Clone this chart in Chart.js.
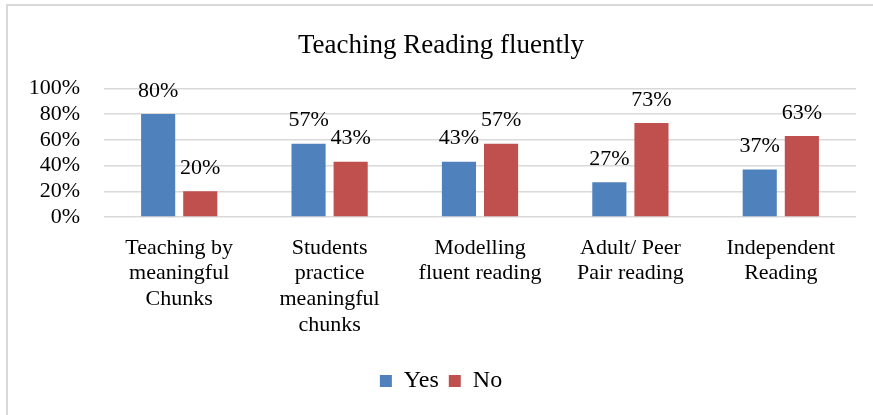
<!DOCTYPE html>
<html>
<head>
<meta charset="utf-8">
<script src="https://cdn.jsdelivr.net/npm/chart.js@4.4.0/dist/chart.umd.min.js"></script>
<style>
  html, body { margin: 0; padding: 0; background: #fff; overflow: hidden; width: 873px; height: 415px; }
  #box { position: absolute; left: 6px; top: 4px; width: 880px; height: 420px; border: 2px solid #d9d9d9; box-sizing: border-box; }
  #wrap { position: absolute; left: 6px; top: 5px; width: 880px; height: 420px; }
</style>
</head>
<body>
<div id="box"></div>
<div id="wrap"><canvas id="chart" width="880" height="420"></canvas></div>
<script>
// categories (multi-line labels as in the picture)
const categories = [
  ["Teaching by", "meaningful", "Chunks"],
  ["Students", "practice", "meaningful", "chunks"],
  ["Modelling", "fluent reading"],
  ["Adult/ Peer", "Pair reading"],
  ["Independent", "Reading"],
];
// percentages
const yesValues = [80, 57, 43, 27, 37];
const noValues = [20, 43, 57, 73, 63];
const yTicks = [0, 20, 40, 60, 80, 100];

const serif = "'Liberation Serif', 'Times New Roman', serif";

// labels above each bar
const barLabels = {
  id: "barLabels",
  afterDatasetsDraw(chart) {
    const ctx = chart.ctx;
    ctx.save();
    ctx.font = "22px " + serif;
    ctx.fillStyle = "#000";
    ctx.textAlign = "center";
    ctx.textBaseline = "middle";
    chart.data.datasets.forEach((ds, i) => {
      chart.getDatasetMeta(i).data.forEach((bar, j) => {
        ctx.fillText(ds.data[j] + "%", bar.x, bar.y - 23);
      });
    });
    ctx.restore();
  },
};

new Chart(document.getElementById("chart"), {
  type: "bar",
  plugins: [barLabels],
  data: {
    labels: categories,
    datasets: [
      { label: "Yes", data: yesValues, backgroundColor: "#4F81BD", categoryPercentage: 0.56, barPercentage: 0.81 },
      { label: "No", data: noValues, backgroundColor: "#C0504D", categoryPercentage: 0.56, barPercentage: 0.81 },
    ],
  },
  options: {
    responsive: false,
    animation: false,
    layout: { padding: { left: 20, right: 30, top: 0, bottom: 22 } },
    plugins: {
      tooltip: { enabled: false },
      title: {
        display: true,
        text: "Teaching Reading fluently",
        color: "#000",
        font: { family: serif, size: 27, weight: "normal", lineHeight: 1.2 },
        padding: { top: 25, bottom: 26 },
      },
      legend: {
        position: "bottom",
        labels: {
          color: "#000",
          font: { family: serif, size: 24 },
          boxWidth: 12,
          boxHeight: 12,
          padding: 10,
        },
      },
    },
    scales: {
      x: {
        grid: { display: false, drawTicks: false },
        border: { display: false },
        ticks: {
          color: "#000",
          font: { family: serif, size: 22, lineHeight: 1.17 },
          maxRotation: 0,
          autoSkip: false,
          padding: 18,
        },
        afterFit(scale) { scale.height = 142; },
      },
      y: {
        min: 0,
        max: 100,
        afterBuildTicks(scale) { scale.ticks = yTicks.map(v => ({ value: v })); },
        grid: { color: "#d9d9d9", lineWidth: 1.5, drawTicks: false },
        border: { display: false },
        ticks: {
          color: "#000",
          font: { family: serif, size: 22 },
          padding: 24,
          autoSkip: false,
          callback: v => v + "%",
        },
        afterFit(scale) { scale.width = 78; },
      },
    },
  },
});
</script>
</body>
</html>
